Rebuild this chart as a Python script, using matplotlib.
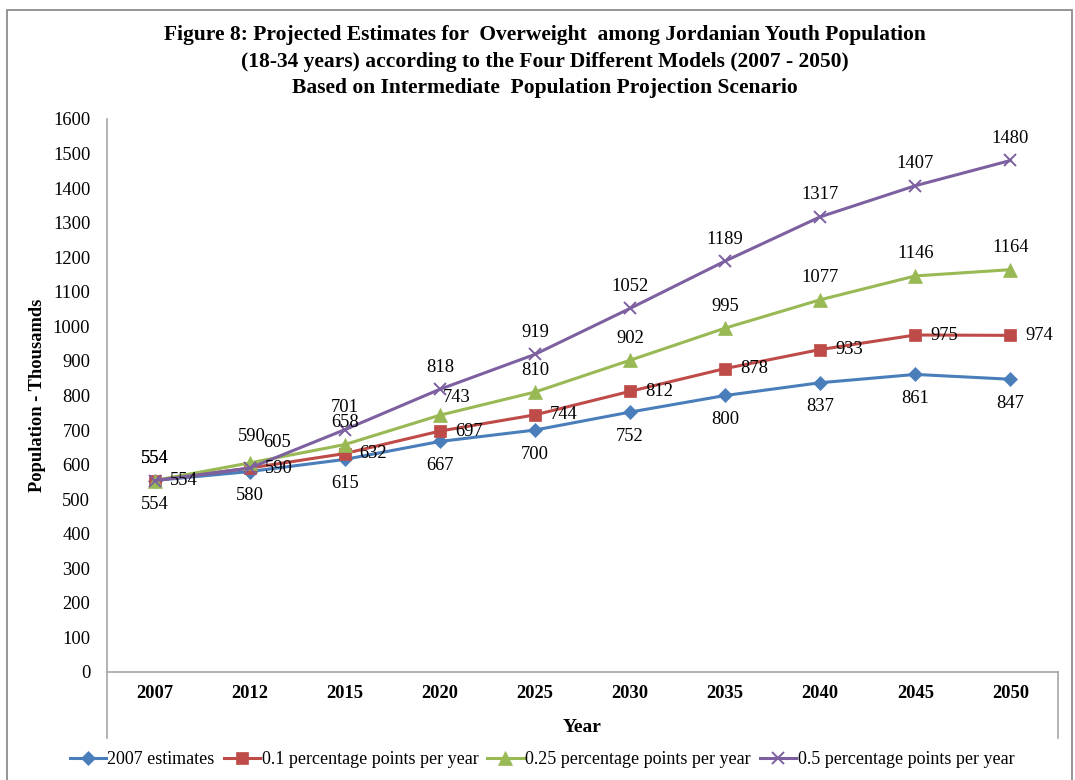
import matplotlib
matplotlib.use("Agg")
import matplotlib.pyplot as plt
from matplotlib.lines import Line2D
from matplotlib.patches import Rectangle

# ---- data (thousands) ----
years = ["2007", "2012", "2015", "2020", "2025", "2030", "2035", "2040", "2045", "2050"]
est_2007 = [554, 580, 615, 667, 700, 752, 800, 837, 861, 847]
pp_010 = [554, 590, 632, 697, 744, 812, 878, 933, 975, 974]
pp_025 = [554, 605, 658, 743, 810, 902, 995, 1077, 1146, 1164]
pp_050 = [554, 590, 701, 818, 919, 1052, 1189, 1317, 1407, 1480]
series_names = ["2007 estimates", "0.1 percentage points per year",
                "0.25 percentage points per year", "0.5 percentage points per year"]
y_ticks = list(range(0, 1601, 100))

title_lines = [
    "Figure 8: Projected Estimates for  Overweight  among Jordanian Youth Population",
    "(18-34 years) according to the Four Different Models (2007 - 2050)",
    "Based on Intermediate  Population Projection Scenario",
]

plt.rcParams["font.family"] = ["Liberation Serif", "DejaVu Serif"]

W, H = 1075, 780
fig = plt.figure(figsize=(W / 100, H / 100), dpi=100)
ax_left, ax_right, ax_top, ax_bottom = 107, 1058, 119, 672
ax = fig.add_axes([ax_left / W, (H - ax_bottom) / H,
                   (ax_right - ax_left) / W, (ax_bottom - ax_top) / H])

PX = 0.72  # points per pixel at 100 dpi

styles = [
    dict(color="#4A7EBB", marker="D", ms=7.0, mew=0.5),
    dict(color="#BE4B48", marker="s", ms=8.5, mew=0.5),
    dict(color="#98B954", marker="^", ms=9.5, mew=0.5),
    dict(color="#7D60A0", marker="x", ms=9.0, mew=1.4),
]
all_series = [est_2007, pp_010, pp_025, pp_050]
xs = list(range(len(years)))

handles = []
for vals, st, name in zip(all_series, styles, series_names):
    h, = ax.plot(xs, vals, color=st["color"], lw=2.2, marker=st["marker"],
                 ms=st["ms"], mew=st["mew"], mfc=st["color"], mec=st["color"],
                 label=name, clip_on=False, zorder=3)
    handles.append(h)

# data label placement per series (pixel offsets), with a few hand-nudged labels
label_font = dict(fontsize=13.3, color="black")
def put(i, v, dx, dy, ha="center"):
    ax.annotate(str(v), (i, v), xytext=(dx * PX, dy * PX), textcoords="offset points",
                ha=ha, va="center", zorder=5, **label_font)

for i, v in enumerate(est_2007):
    put(i, v, 0, -24)
for i, v in enumerate(pp_010):
    put(i, v, 15, 0, ha="left")
green_nudge = {1: (27, 20), 3: (17, 18)}
for i, v in enumerate(pp_025):
    dx, dy = green_nudge.get(i, (0, 22))
    put(i, v, dx, dy)
purple_nudge = {1: (2, 32)}
for i, v in enumerate(pp_050):
    dx, dy = purple_nudge.get(i, (0, 22))
    put(i, v, dx, dy)

ax.set_xlim(-0.5, len(years) - 0.5)
ax.set_ylim(0, 1600)
ax.set_yticks(y_ticks)
ax.set_yticklabels([str(t) for t in y_ticks], fontsize=13.3)
ax.set_xticks(xs)
ax.set_xticklabels(years, fontsize=13.3, fontweight="bold")
ax.tick_params(axis="both", length=0)
ax.tick_params(axis="y", pad=12)
ax.tick_params(axis="x", pad=9)
for s in ax.spines.values():
    s.set_visible(False)
ax.patch.set_visible(False)

axis_col = "#A6A6A6"
ext = -(738 - ax_bottom) / (ax_bottom - ax_top)
for xx, yy in [([0, 0], [1, ext]), ([0, 1], [0, 0]), ([1, 1], [0, ext])]:
    ax.add_line(Line2D(xx, yy, transform=ax.transAxes, color=axis_col, lw=1.2,
                       clip_on=False, zorder=1))

# titles and axis names
for yc, line in zip([35, 62, 88], title_lines):
    fig.text(545 / W, 1 - yc / H, line, ha="center", va="center",
             fontsize=15.5, fontweight="bold")
fig.text(38 / W, 1 - 395 / H, "Population - Thousamds", rotation=90,
         ha="center", va="center", fontsize=13.3, fontweight="bold")
fig.text(582 / W, 1 - 727 / H, "Year", ha="center", va="center",
         fontsize=14, fontweight="bold")

fig.legend(handles=handles, loc="center", bbox_to_anchor=(542 / W, 1 - 760 / H),
           ncol=4, frameon=False, fontsize=13, handlelength=2.0,
           handletextpad=0.1, columnspacing=0.5, numpoints=1,
           borderaxespad=0, borderpad=0)

# outer chart border
fig.patches.append(Rectangle((7 / W, -0.05), (1072 - 7) / W, (H - 10) / H + 0.05,
                             transform=fig.transFigure, fill=False,
                             edgecolor="#8C8C8C", lw=1.3))

fig.savefig("out.png", dpi=100)
